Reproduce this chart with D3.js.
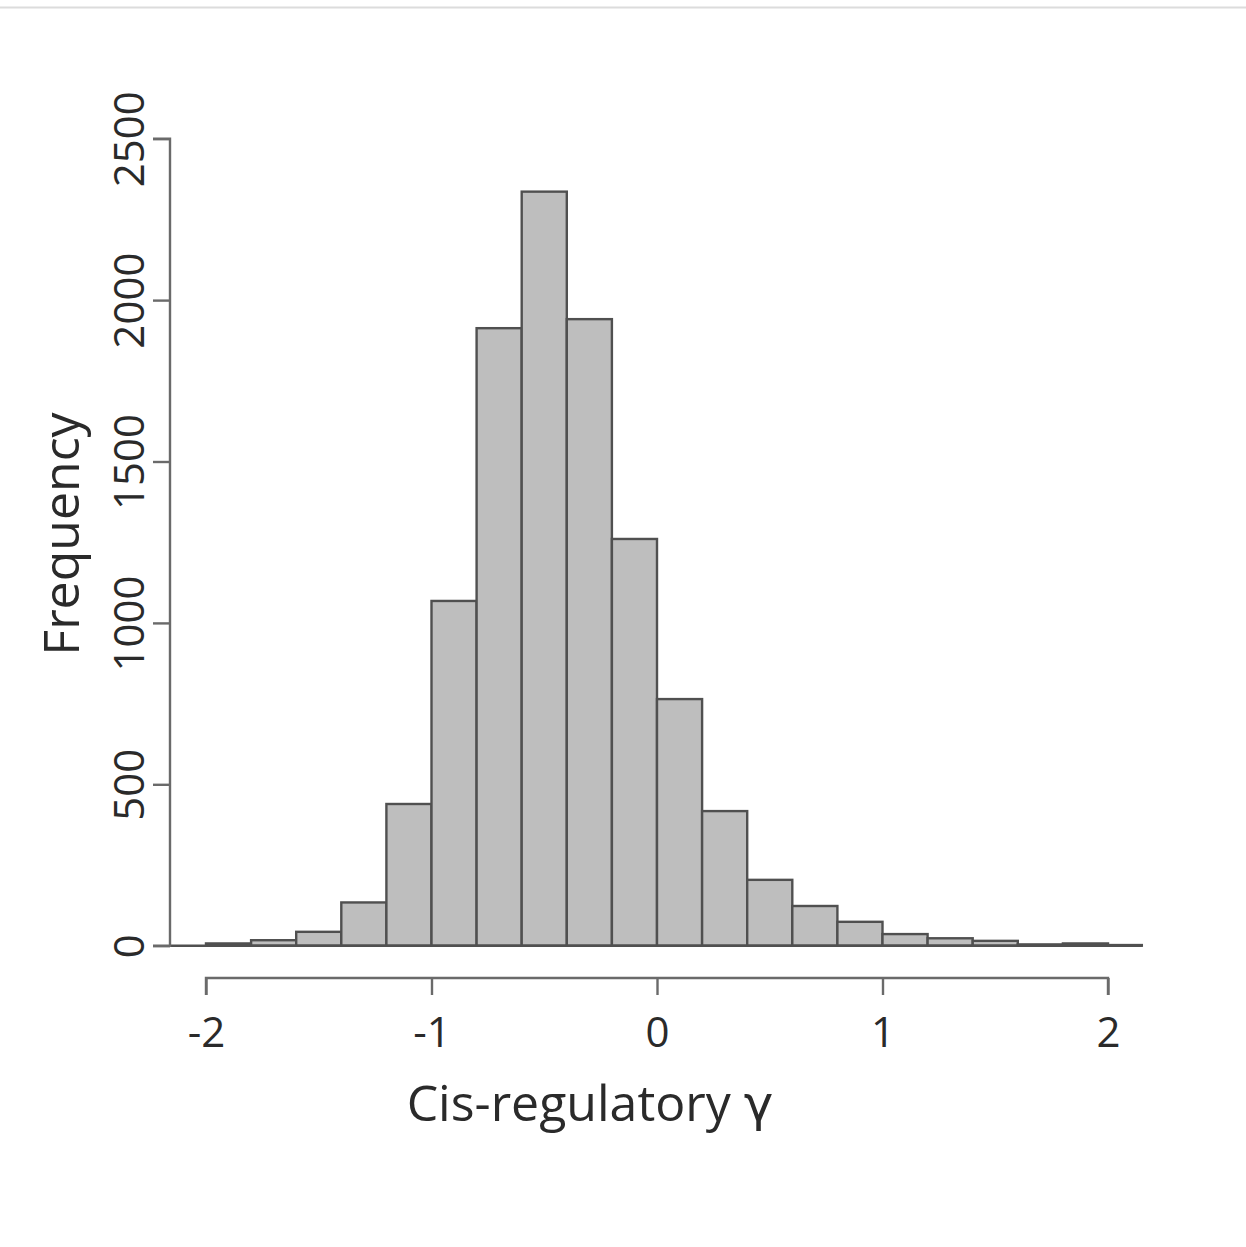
<!DOCTYPE html>
<html>
<head>
<meta charset="utf-8">
<script src="https://cdn.jsdelivr.net/npm/d3@7"></script>
<style>
  html, body { margin: 0; padding: 0; background: #fff; }
  svg { display: block; }
  text { font-family: "Open Sans", "Noto Sans", sans-serif; fill: #2a2a2a; }
</style>
</head>
<body>
<svg id="chart"></svg>
<script>
// Histogram of cis-regulatory gamma — counts
const breaks = [-2.0, -1.8, -1.6, -1.4, -1.2, -1.0, -0.8, -0.6, -0.4, -0.2, 0.0,
                0.2, 0.4, 0.6, 0.8, 1.0, 1.2, 1.4, 1.6, 1.8, 2.0, 2.15];
const counts = [7, 17, 43, 134, 439, 1068, 1913, 2336, 1941, 1260,
                764, 417, 204, 123, 74, 36, 23, 15, 4, 7, 2];
const xTicks = [-2, -1, 0, 1, 2];
const yTicks = [0, 500, 1000, 1500, 2000, 2500];

const W = 1246, H = 1247;
const svg = d3.select("#chart").attr("width", W).attr("height", H);

// faint frame line at the top of the picture
svg.append("line")
  .attr("x1", 0).attr("x2", W).attr("y1", 7.5).attr("y2", 7.5)
  .attr("stroke", "#dcdcdc").attr("stroke-width", 2);

const x = d3.scaleLinear().domain([-2, 2]).range([206, 1108]);
const y = d3.scaleLinear().domain([0, 2500]).range([945.7, 138.7]);

const bins = counts.map((c, i) => ({ x0: breaks[i], x1: breaks[i + 1], n: c }));

// bars
svg.append("g")
  .selectAll("rect")
  .data(bins)
  .join("rect")
    .attr("x", d => x(d.x0))
    .attr("width", d => x(d.x1) - x(d.x0))
    .attr("y", d => y(d.n))
    .attr("height", d => y(0) - y(d.n))
    .attr("fill", "#bebebe")
    .attr("stroke", "#505050")
    .attr("stroke-width", 2.4);

// baseline running from the y axis to the last bar
svg.append("line")
  .attr("x1", 170).attr("x2", x(breaks[breaks.length - 1]))
  .attr("y1", y(0)).attr("y2", y(0))
  .attr("stroke", "#505050").attr("stroke-width", 2.4);

const axisColor = "#6a6a6a";

// x axis (R style, offset below the plot)
const xAxis = svg.append("g")
  .attr("transform", "translate(0,978)")
  .call(d3.axisBottom(x).tickValues(xTicks).tickSize(17).tickPadding(22)
    .tickFormat(d3.format("d")));
xAxis.select(".domain").attr("stroke", axisColor).attr("stroke-width", 2.4)
  .attr("d", `M${x(-2)},17V0H${x(2)}V17`);
xAxis.selectAll(".tick line").attr("stroke", axisColor).attr("stroke-width", 2.4);
xAxis.selectAll(".tick text")
  .attr("font-size", 42).attr("fill", "#2a2a2a")
  .text(d => d < 0 ? "-" + Math.abs(d) : d);

// y axis
const yAxis = svg.append("g")
  .attr("transform", "translate(170,0)")
  .call(d3.axisLeft(y).tickValues(yTicks).tickSize(17).tickFormat(d3.format("d")));
yAxis.select(".domain").attr("stroke", axisColor).attr("stroke-width", 2.4)
  .attr("d", `M-17,${y(2500)}H0V${y(0)}H-17`);
yAxis.selectAll(".tick line").attr("stroke", axisColor).attr("stroke-width", 2.4);
yAxis.selectAll(".tick text")
  .attr("font-size", 42).attr("fill", "#2a2a2a")
  .attr("x", null).attr("dy", null)
  .attr("text-anchor", "middle")
  .attr("transform", "translate(-26,0) rotate(-90)");

// axis titles
svg.append("text")
  .attr("transform", "translate(79,534) rotate(-90)")
  .attr("text-anchor", "middle")
  .attr("font-size", 50)
  .text("Frequency");

const xt = svg.append("text")
  .attr("x", 590).attr("y", 1121)
  .attr("text-anchor", "middle")
  .attr("font-size", 50);
xt.append("tspan").text("Cis-regulatory ");
xt.append("tspan").attr("font-family", "DejaVu Sans").text("γ");
</script>
</body>
</html>
